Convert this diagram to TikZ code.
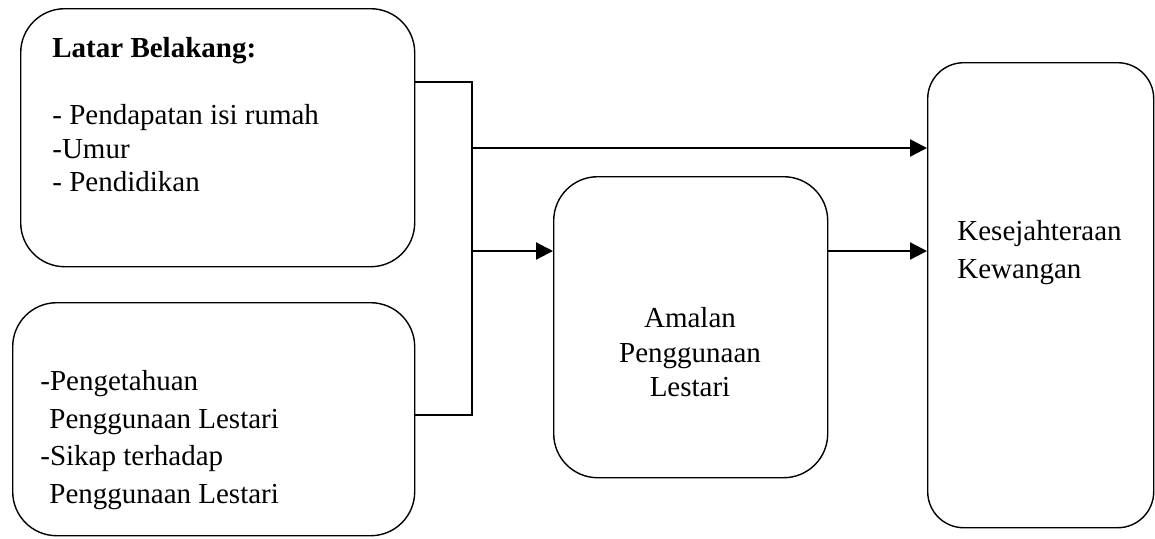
\documentclass[tikz,border=0pt]{standalone}
\usepackage{fontspec}
\setmainfont{Liberation Serif}
\usetikzlibrary{arrows.meta}
\begin{document}
\begin{tikzpicture}[x=0.5pt,y=-0.5pt,line cap=butt,line join=miter,>={Triangle[length=8.5pt,width=8.5pt]},
		box/.style={draw,line width=0.7pt,rounded corners=22pt,inner sep=0pt,anchor=north west},
		txt/.style={inner sep=0pt,align=left,anchor=north west}]
				\useasboundingbox (0,0) rectangle (1155,538);
				\node[box,minimum width=197pt,minimum height=129pt] (latar) at (20,8) {};
				\node[box,minimum width=201pt,minimum height=116.5pt] (sikap) at (12,302) {};
				\node[box,minimum width=137pt,minimum height=150.5pt] (amalan) at (553,176) {};
				\node[box,minimum width=113pt,minimum height=232.5pt,rounded corners=18pt] (kesej) at (927,62) {};
				
				\node[txt,font=\fontsize{14.5}{16.75}\selectfont] (latartxt) at (52,37)
				{\textbf{Latar Belakang:}\\[16.75pt]- Pendapatan isi rumah\\-Umur\\- Pendidikan};
				\node[txt,font=\fontsize{14.5}{18.75}\selectfont] (sikaptxt) at (40,370)
				{-Pengetahuan\\\hspace*{4.5pt}Penggunaan Lestari\\-Sikap terhadap\\\hspace*{4.5pt}Penggunaan Lestari};
				\node[txt,align=center,anchor=north,font=\fontsize{14.5}{17.25}\selectfont] (amalantxt) at (690,307)
				{Amalan\\Penggunaan\\Lestari};
				\node[txt,font=\fontsize{14.5}{19}\selectfont] (kesejtxt) at (957,220)
				{Kesejahteraan\\Kewangan};
				
				\coordinate (jt) at (472,82);
				\coordinate (jb) at (472,415);
				\coordinate (ja) at (472,148);
				\coordinate (jc) at (472,251);
				\draw[line width=0.7pt] (latar.east |- jt) -- (jt) -- (jb) -- (sikap.east |- jb);
				\draw[->,line width=1.1pt] (ja) -- (kesej.west |- ja);
				\draw[->,line width=1.1pt] (jc) -- (amalan.west |- jc);
				\draw[->,line width=1.1pt] (amalan.east |- jc) -- (kesej.west |- jc);
			\end{tikzpicture}
\end{document}
